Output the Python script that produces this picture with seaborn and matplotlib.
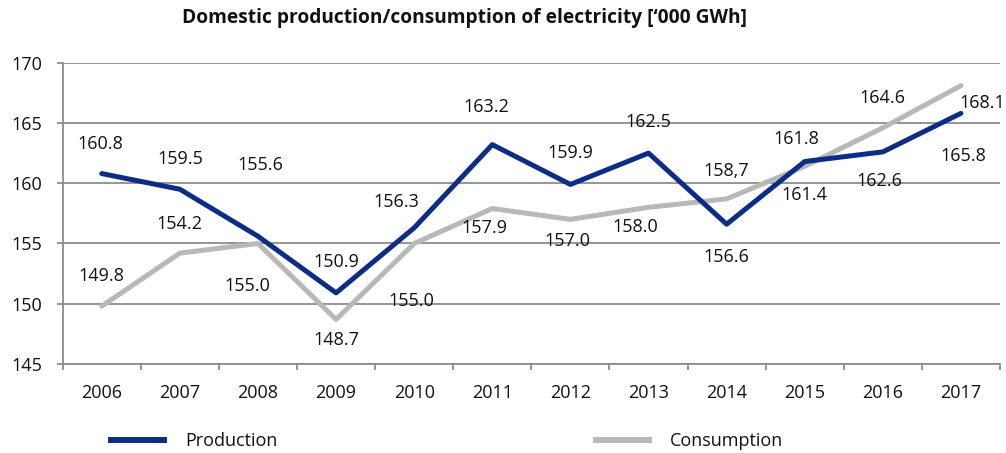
import matplotlib
matplotlib.use("Agg")
import matplotlib.pyplot as plt
import seaborn as sns
import pandas as pd
from matplotlib.lines import Line2D

# ---- data ----
years = ["2006", "2007", "2008", "2009", "2010", "2011",
         "2012", "2013", "2014", "2015", "2016", "2017"]
production = [160.8, 159.5, 155.6, 150.9, 156.3, 163.2,
              159.9, 162.5, 156.6, 161.8, 162.6, 165.8]
consumption = [149.8, 154.2, 155.0, 148.7, 155.0, 157.9,
               157.0, 158.0, 158.7, 161.4, 164.6, 168.1]
production_labels = ["160.8", "159.5", "155.6", "150.9", "156.3", "163.2",
                     "159.9", "162.5", "156.6", "161.8", "162.6", "165.8"]
consumption_labels = ["149.8", "154.2", "155.0", "148.7", "155.0", "157.9",
                      "157.0", "158.0", "158,7", "161.4", "164.6", "168.1"]
y_ticks = [145, 150, 155, 160, 165, 170]
title = "Domestic production/consumption of electricity [\u2018000 GWh]"

# ---- label layout (pixel offsets from the point, x right / y down) ----
prod_off = [(-1, -30), (0, -30), (2, -71), (0, -31), (-18, -26), (-6, -38),
            (0, -31), (0, -31), (0, 33), (-8, -23), (-3, 29), (2, 43)]
cons_off = [(0, -30), (0, -29), (-11, 43), (0, 21), (-3, 58), (-8, 19),
            (-3, 22), (-13, 20), (0, -28), (0, 29), (0, -30), (21, 17)]

NAVY = "#0C2D86"
GRAY = "#B8B8B8"
GRID = "#8C8C8C"
FONT = ["Open Sans", "DejaVu Sans"]

sns.set_theme(style="white")
plt.rcParams["font.family"] = FONT

df = pd.DataFrame({
    "pos": list(range(len(years))) * 2,
    "value": production + consumption,
    "series": ["Production"] * len(years) + ["Consumption"] * len(years),
})

fig = plt.figure(figsize=(10.06, 4.53), dpi=100)
ax = fig.add_axes([62.7 / 1006, (453 - 364) / 453, 937.3 / 1006, 301.3 / 453])

sns.lineplot(data=df, x="pos", y="value", hue="series",
             palette={"Production": NAVY, "Consumption": GRAY},
             hue_order=["Consumption", "Production"],
             linewidth=3.6, ax=ax, legend=False, sort=False)
ax.lines[0].set_zorder(3)
ax.lines[1].set_zorder(4)

ax.set_xlim(-0.5, len(years) - 0.5)
ax.set_ylim(145, 170)
ax.set_yticks(y_ticks)
ax.set_yticklabels([str(t) for t in y_ticks])
ax.set_xticks(range(len(years)))
ax.set_xticklabels(years)
ax.set_xticks([i - 0.5 for i in range(len(years) + 1)], minor=True)
ax.set_xlabel("")
ax.set_ylabel("")

ax.grid(axis="y", color=GRID, linewidth=1.3)
ax.set_axisbelow(True)
for s in ["top", "right"]:
    ax.spines[s].set_visible(False)
for s in ["left", "bottom"]:
    ax.spines[s].set_color(GRID)
    ax.spines[s].set_linewidth(1.3)

ax.tick_params(axis="y", which="major", left=True, length=4.5, width=1.3,
               color=GRID, labelsize=13, pad=10, labelcolor="#111111")
ax.tick_params(axis="x", which="major", bottom=False, labelsize=13, pad=8.5,
               labelcolor="#111111")
ax.tick_params(axis="x", which="minor", bottom=True, length=4.5, width=1.3,
               color=GRID)

k = 0.72  # px -> pt at 100 dpi
for i, (v, lab, (dx, dy)) in enumerate(zip(production, production_labels, prod_off)):
    ax.annotate(lab, (i, v), xytext=(dx * k, -dy * k), textcoords="offset points",
                ha="center", va="center", fontsize=13, color="#111111", zorder=6)
for i, (v, lab, (dx, dy)) in enumerate(zip(consumption, consumption_labels, cons_off)):
    ax.annotate(lab, (i, v), xytext=(dx * k, -dy * k), textcoords="offset points",
                ha="center", va="center", fontsize=13, color="#111111", zorder=6)

fig.text(465 / 1006, 1 - 18 / 453, title, ha="center", va="center",
         fontsize=13.8, fontweight="bold", color="#111111")

# legend entries
for (x0, name, col) in [(108, "Production", NAVY), (593, "Consumption", GRAY)]:
    leg = fig.legend(handles=[Line2D([], [], color=col, linewidth=4.3,
                                     solid_capstyle="butt")],
                     labels=[name], loc="center left",
                     bbox_to_anchor=(x0 / 1006, 1 - 441 / 453),
                     frameon=False, borderpad=0, borderaxespad=0,
                     handlelength=3.27, handletextpad=1.0, fontsize=13)
    for t in leg.get_texts():
        t.set_color("#111111")

fig.savefig("out.png", dpi=100)
